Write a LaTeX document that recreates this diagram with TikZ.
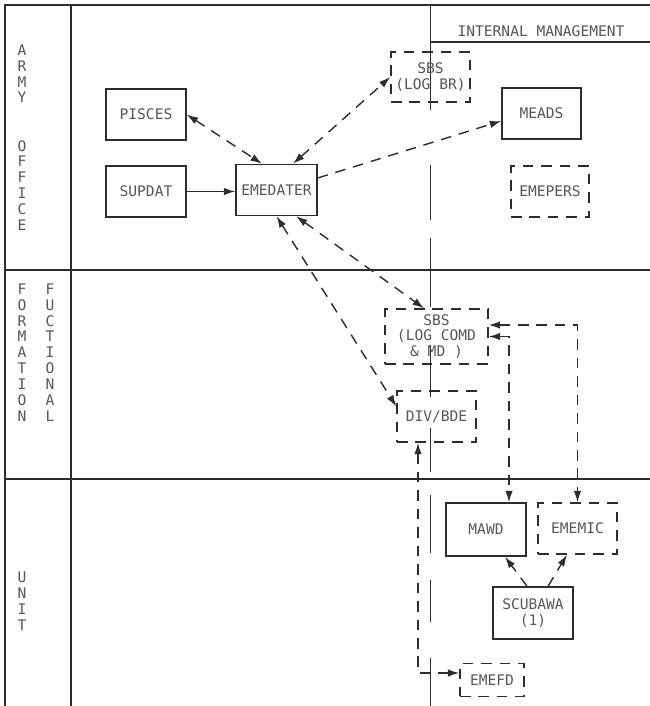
\documentclass[tikz,border=0pt]{standalone}
\usepackage{fontspec}
\setmonofont{DejaVu Sans Mono}
\usepackage{tikz}
\usetikzlibrary{arrows.meta}
\definecolor{ink}{RGB}{45,45,45}
\tikzset{
	>={Latex[length=2.3mm,width=1.5mm]},
	sys/.style={draw=ink, line width=0.8pt, minimum width=1.6cm, minimum height=1.02cm, inner sep=1pt, align=center, text=ink!80, font=\ttfamily\fontsize{8.3}{9}\selectfont},
	plan/.style={sys, dash pattern=on 6pt off 4.5pt},
	link/.style={draw=ink, line width=0.8pt, dash pattern=on 6pt off 4.5pt},
	gridline/.style={draw=ink, line width=1pt},
	lane/.style={align=center, inner sep=0pt, text=ink!80, font=\ttfamily\fontsize{8.3}{9}\selectfont}
}

\begin{document}
\begin{tikzpicture}
		\useasboundingbox (0,0) rectangle (13,14.12);
		\fill [white] (0,0) rectangle (13,14.12);
		
		\draw [gridline] (0.1,0) -- (0.1,14.02) -- (13,14.02);
		\draw [gridline] (1.42,0) -- (1.42,14.02);
		\draw [gridline] (0.1,8.72) -- (13,8.72);
		\draw [gridline] (0.1,4.54) -- (13,4.54);
		\draw [ink, line width=0.7pt] (8.6,13.28) -- (13,13.28);
		\node [lane] (hdr) at (10.82,13.5) {INTERNAL MANAGEMENT};
		\foreach \a/\b in {14.02/11.92, 10.82/9.72, 9.36/7.98, 7.22/6.18, 5.56/4.68, 4.22/3.06, 2.52/1.68, 0.96/0}
			\draw [ink, line width=0.5pt] (8.6,\a) -- (8.6,\b);
		
		\node [lane] (army) at (0.44,11.37) {A\\R\\M\\Y\\[18.5pt]O\\F\\F\\I\\C\\E};
		\node [lane] (form) at (0.44,7.07) {F\\O\\R\\M\\A\\T\\I\\O\\N};
		\node [lane] (func) at (1.0,7.07) {F\\U\\C\\T\\I\\O\\N\\A\\L};
		\node [lane] (unit) at (0.44,2.1) {U\\N\\I\\T};
		
		\node [sys] (pisces) at (2.92,11.83) {PISCES};
		\node [sys] (supdat) at (2.92,10.29) {SUPDAT};
		\node [sys, minimum width=1.62cm] (emedater) at (5.53,10.32) {EMEDATER};
		\node [plan, minimum width=1.58cm, minimum height=1cm] (sbsbr) at (8.61,12.58) {SBS\\(LOG BR)};
		\node [sys, minimum width=1.58cm] (meads) at (10.83,11.85) {MEADS};
		\node [plan, minimum width=1.56cm] (emepers) at (11.0,10.29) {EMEPERS};
		\node [plan, minimum width=2.06cm, minimum height=1.1cm] (sbscomd) at (8.73,7.39) {SBS\\(LOG COMD\\\& MD )};
		\node [plan, minimum width=1.58cm] (divbde) at (8.73,5.79) {DIV/BDE};
		\node [sys, minimum height=1.06cm] (mawd) at (9.72,3.53) {MAWD};
		\node [plan, minimum width=1.58cm] (ememic) at (11.55,3.55) {EMEMIC};
		\node [sys, minimum height=1.04cm] (scubawa) at (10.66,1.86) {SCUBAWA\\(1)};
		\node [plan, minimum width=1.28cm, minimum height=0.66cm] (emefd) at (9.84,0.52) {EMEFD};
		
		\draw [link, <->] (pisces.east) -- ([xshift=-0.29cm]emedater.north);
		\draw [ink, line width=0.8pt, ->] (supdat.east) -- (supdat.east -| emedater.west);
		\draw [link, <->] ([xshift=0.33cm]emedater.north) -- (sbsbr.west);
		\draw [link, ->] ([yshift=0.24cm]emedater.east) -- ([yshift=-0.15cm]meads.west);
		\draw [link, <->] ([xshift=0.39cm]emedater.south) -- ([xshift=-0.25cm]sbscomd.north);
		\draw [link, <->] (emedater.south) -- ([yshift=0.2cm]divbde.west);
		\draw [link, <->] ([xshift=-0.37cm]divbde.south) |- ([yshift=0.14cm]emefd.west);
		\draw [link, <->] (sbscomd.east) -| ([xshift=0.46cm]mawd.north);
		\draw [link, <->] ([yshift=0.23cm]sbscomd.east) -| (ememic.north);
		\draw [link, ->] ([xshift=-0.12cm]scubawa.north) -- ([xshift=0.38cm]mawd.south);
		\draw [link, ->] ([xshift=0.3cm]scubawa.north) -- ([xshift=-0.21cm]ememic.south);
\end{tikzpicture}
\end{document}
